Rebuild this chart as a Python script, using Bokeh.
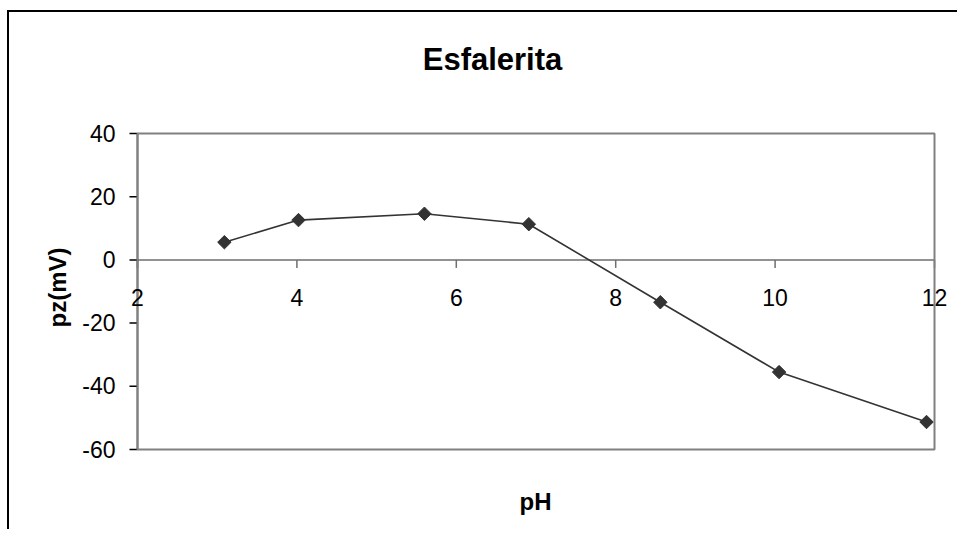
import math
from bokeh.plotting import figure
from bokeh.models import ColumnDataSource, LabelSet, Label, BoxAnnotation, Range1d
from bokeh.core.properties import value
from bokeh.embed import file_html
from bokeh.resources import INLINE

# ---- data ----
ph = [3.09, 4.02, 5.60, 6.91, 8.56, 10.05, 11.90]
pz = [5.6, 12.6, 14.6, 11.3, -13.4, -35.5, -51.3]
x_ticks = [2, 4, 6, 8, 10, 12]
x_tick_labels = ["2", "4", "6", "8", "10", "12"]
y_ticks = [-60, -40, -20, 0, 20, 40]
y_tick_labels = ["-60", "-40", "-20", "0", "20", "40"]
title_text = "Esfalerita"
x_label = "pH"
y_label = "pz(mV)"

# ---- layout (page pixels) ----
FONT_NAME = "Liberation Sans"
FONT = value(FONT_NAME)
OX, OY = 9, 12            # canvas origin on page (after css margin + border)
W, H = 950, 519           # canvas size
PX_L, PX_R = 137, 934     # plot area left/right on page
PY_T, PY_B = 133, 449     # plot area top/bottom on page

x_lo, x_hi = x_ticks[0], x_ticks[-1]
y_lo, y_hi = y_ticks[0], y_ticks[-1]
ppx = (PX_R - PX_L) / (x_hi - x_lo)
ppy = (PY_B - PY_T) / (y_hi - y_lo)

def px2x(px):
    return x_lo + (px - PX_L) / ppx

def py2y(py):
    return y_hi - (py - PY_T) / ppy

x_range = Range1d(px2x(OX), px2x(OX + W))
y_range = Range1d(py2y(OY + H), py2y(OY))

p = figure(width=W, height=H, output_backend="svg", toolbar_location=None,
           x_range=x_range, y_range=y_range,
           x_axis_location=None, y_axis_location=None, min_border=0)
p.styles = {"margin-left": "7px", "margin-top": "10px",
            "border-left": "2px solid black", "border-top": "2px solid black"}
p.title.visible = False
p.grid.visible = False
p.outline_line_color = None
p.background_fill_color = "white"
p.border_fill_color = "white"

TICK = 8
GRAY = "#808080"

# plot area box
p.add_layout(BoxAnnotation(left=x_lo, right=x_hi, bottom=y_lo, top=y_hi,
                           fill_color=None, fill_alpha=0, line_color=GRAY,
                           line_alpha=1.0, line_width=2))

# zero line (x axis) and its ticks
p.segment(x0=[x_lo], y0=[0], x1=[x_hi], y1=[0], line_color="#6e6e6e", line_width=1.5)
p.segment(x0=x_ticks, y0=[0] * len(x_ticks), x1=x_ticks,
          y1=[-TICK / ppy] * len(x_ticks), line_color="#6e6e6e", line_width=1.5)
xsrc = ColumnDataSource(dict(x=x_ticks, y=[0] * len(x_ticks), t=x_tick_labels))
p.add_layout(LabelSet(x="x", y="y", text="t", source=xsrc, text_align="center",
                      text_baseline="alphabetic", y_offset=-46, text_font=FONT,
                      text_font_size="23px", text_color="black"))

# y axis
p.segment(x0=[x_lo], y0=[y_lo], x1=[x_lo], y1=[y_hi], line_color="black", line_width=1.5)
p.segment(x0=[x_lo - TICK / ppx] * len(y_ticks), y0=y_ticks, x1=[x_lo] * len(y_ticks),
          y1=y_ticks, line_color="black", line_width=1.5)
ysrc = ColumnDataSource(dict(x=[x_lo] * len(y_ticks), y=y_ticks, t=y_tick_labels))
p.add_layout(LabelSet(x="x", y="y", text="t", source=ysrc, text_align="right",
                      text_baseline="alphabetic", x_offset=-22, y_offset=-8,
                      text_font=FONT, text_font_size="23px", text_color="black"))

# texts
p.add_layout(Label(x=px2x(492), y=py2y(59), text=title_text, text_font=FONT_NAME,
                   text_font_size="31px", text_font_style="bold", text_align="center",
                   text_baseline="alphabetic", text_color="black"))
p.add_layout(Label(x=px2x(535), y=py2y(501), text=x_label, text_font=FONT_NAME,
                   text_font_size="24px", text_font_style="bold", text_align="center",
                   text_baseline="alphabetic", text_color="black"))
p.add_layout(Label(x=px2x(57), y=py2y(287), text=y_label, text_font=FONT_NAME,
                   text_font_size="24px", text_font_style="bold", text_align="center",
                   text_baseline="middle", angle=math.pi / 2, text_color="black"))

# series
p.line(ph, pz, line_color="#333333", line_width=1.6)
p.scatter(ph, pz, marker="square", size=9.5, angle=math.pi / 4,
          fill_color="#333333", line_color="#333333")

open("out.html", "w").write(file_html(p, INLINE))
